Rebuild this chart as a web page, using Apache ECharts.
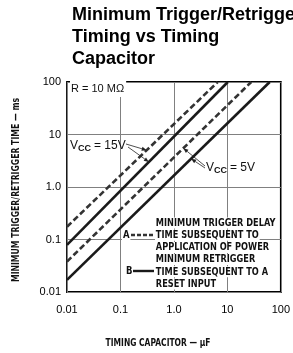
<!DOCTYPE html>
<html>
<head>
<meta charset="utf-8">
<script src="https://cdn.jsdelivr.net/npm/echarts@6/dist/echarts.min.js"></script>
<style>
  html, body { margin: 0; padding: 0; background: #fff; }
  #chart { width: 293px; height: 353px; }
</style>
</head>
<body>
<div id="chart"></div>
<script>
// tick labels
const xTickLabels = ['0.01', '0.1', '1.0', '10', '100'];
const yTickLabels = ['0.01', '0.1', '1.0', '10', '100'];

// line end points: capacitance (uF) -> time (ms)
const capTrig15 = [0.01, 6.6];
const timeTrig15 = [0.175, 100];
const capRetrig15 = [0.01, 10.2];
const timeRetrig15 = [0.079, 100];
const capTrig5 = [0.01, 28];
const timeTrig5 = [0.038, 100];
const capRetrig5 = [0.01, 62];
const timeRetrig5 = [0.017, 100];

const narrow = '"DejaVu Sans Condensed", sans-serif';
const arial = '"Liberation Sans", Arial, sans-serif';

function zip(xs, ys) {
  return xs.map((x, i) => [x, ys[i]]);
}

// point on a straight log-log line at capacitance c (for arrow tips)
function onLine(xs, ys, c) {
  const t = (Math.log10(c) - Math.log10(xs[0])) / (Math.log10(xs[1]) - Math.log10(xs[0]));
  const ly = Math.log10(ys[0]) + t * (Math.log10(ys[1]) - Math.log10(ys[0]));
  return [c, Math.pow(10, ly)];
}

function tickLabel(list) {
  return function (v) {
    return list[Math.round(Math.log10(v)) + 2];
  };
}

let myChart = echarts.init(document.getElementById('chart'));

function lineSeries(name, xs, ys, dashed) {
  return {
    name: name,
    type: 'line',
    data: zip(xs, ys),
    symbol: 'none',
    clip: true,
    lineStyle: {
      color: dashed ? '#333' : '#1a1a1a',
      width: 2.6,
      type: dashed ? [6, 3] : 'solid',
    },
  };
}

let option = {
  animation: false,
  grid: {
    left: 67,
    top: 82,
    width: 214,
    height: 210,
    show: true,
    borderColor: '#000',
    borderWidth: 1.8,
  },
  xAxis: {
    type: 'log',
    logBase: 10,
    min: 0.01,
    max: 100,
    axisLine: { show: false },
    axisTick: { show: false },
    splitLine: { show: true, lineStyle: { color: '#808080', width: 1 } },
    axisLabel: {
      formatter: tickLabel(xTickLabels),
      color: '#000',
      fontSize: 11,
      fontFamily: arial,
      margin: 12,
    },
  },
  yAxis: {
    type: 'log',
    logBase: 10,
    min: 0.01,
    max: 100,
    axisLine: { show: false },
    axisTick: { show: false },
    splitLine: { show: true, lineStyle: { color: '#808080', width: 1 } },
    axisLabel: {
      formatter: tickLabel(yTickLabels),
      color: '#000',
      fontSize: 11,
      fontFamily: arial,
      margin: 6,
    },
  },
  series: [
    lineSeries('A 15V', capTrig15, timeTrig15, true),
    lineSeries('B 15V', capRetrig15, timeRetrig15, false),
    lineSeries('A 5V', capTrig5, timeTrig5, true),
    lineSeries('B 5V', capRetrig5, timeRetrig5, false),
  ],
};
myChart.setOption(option);

// annotations
function px(p) {
  return myChart.convertToPixel({ gridIndex: 0 }, p);
}

function arrow(from, to) {
  const dx = to[0] - from[0], dy = to[1] - from[1];
  const len = Math.sqrt(dx * dx + dy * dy);
  const ux = dx / len, uy = dy / len;
  const hl = 5, hw = 2;
  const bx = to[0] - ux * hl, by = to[1] - uy * hl;
  return [
    {
      type: 'line',
      shape: { x1: from[0], y1: from[1], x2: bx, y2: by },
      style: { stroke: '#222', lineWidth: 0.8 },
      z: 20,
    },
    {
      type: 'polygon',
      shape: { points: [to, [bx - uy * hw, by + ux * hw], [bx + uy * hw, by - ux * hw]] },
      style: { fill: '#222' },
      z: 20,
    },
  ];
}

function whiteText(x, y, text, font, sx) {
  return {
    type: 'text',
    x: x,
    y: y,
    scaleX: sx || 1,
    z: 15,
    style: Object.assign({
      text: text,
      fill: '#111',
      backgroundColor: '#fff',
      verticalAlign: 'middle',
      align: 'left',
    }, font),
  };
}

const legendFont = { fontSize: 10.5, fontWeight: 'bold', fontFamily: narrow };
const legendLines = [
  'MINIMUM TRIGGER DELAY',
  'TIME SUBSEQUENT TO',
  'APPLICATION OF POWER',
  'MINIMUM RETRIGGER',
  'TIME SUBSEQUENT TO A',
  'RESET INPUT',
];

let graphics = [];

graphics.push({
  type: 'text',
  x: 72,
  y: 4,
  style: {
    text: 'Minimum Trigger/Retrigger\nTiming vs Timing\nCapacitor',
    fill: '#000',
    fontSize: 18,
    fontWeight: 'bold',
    fontFamily: arial,
    lineHeight: 22,
  },
});

// y axis title
graphics.push({
  type: 'text',
  x: 16,
  y: 190,
  rotation: Math.PI / 2,
  scaleX: 0.86,
  style: {
    text: 'MINIMUM TRIGGER/RETRIGGER TIME — ms',
    fill: '#111',
    fontSize: 10,
    fontWeight: 'bold',
    fontFamily: narrow,
    align: 'center',
    verticalAlign: 'middle',
  },
});

// x axis title
graphics.push({
  type: 'text',
  x: 158,
  y: 343,
  scaleX: 0.8,
  style: {
    text: 'TIMING CAPACITOR — μF',
    fill: '#111',
    fontSize: 10.5,
    fontWeight: 'bold',
    fontFamily: narrow,
    align: 'center',
    verticalAlign: 'middle',
  },
});

graphics.push(whiteText(70, 89, 'R = 10 MΩ', { fontSize: 11, fontFamily: arial, padding: [2, 2, 3, 1] }));

legendLines.forEach((t, i) => {
  graphics.push(whiteText(155, 223 + i * 12.2, t, Object.assign({ padding: [0, 1] }, legendFont), 0.87));
});

graphics.push(whiteText(122, 235, 'A', Object.assign({ padding: [0, 1] }, legendFont), 0.9));
graphics.push(whiteText(125, 271, 'B', Object.assign({ padding: [0, 1] }, legendFont), 0.9));
graphics.push({
  type: 'line',
  shape: { x1: 131, y1: 235, x2: 154, y2: 235 },
  style: { stroke: '#333', lineWidth: 2.4, lineDash: [4, 2] },
  z: 16,
});
graphics.push({
  type: 'line',
  shape: { x1: 133, y1: 271, x2: 154, y2: 271 },
  style: { stroke: '#1a1a1a', lineWidth: 2.4 },
  z: 16,
});

// Vcc labels
function vccLabel(x, y, volts) {
  return [
    { type: 'text', x: x, y: y, z: 15, style: { text: 'V', fontSize: 12, fontFamily: arial, fill: '#111', verticalAlign: 'middle' } },
    { type: 'text', x: x + 8, y: y + 3, z: 15, style: { text: 'CC', fontSize: 9, fontWeight: 'bold', fontFamily: arial, fill: '#111', verticalAlign: 'middle' } },
    { type: 'text', x: x + 24, y: y, z: 15, style: { text: '= ' + volts, fontSize: 12, fontFamily: arial, fill: '#111', verticalAlign: 'middle' } },
  ];
}

graphics = graphics.concat(vccLabel(70, 146, '15V'));
graphics = graphics.concat(arrow([126, 144], px(onLine(capTrig15, timeTrig15, 0.31))));
graphics = graphics.concat(arrow([128, 147], px(onLine(capRetrig15, timeRetrig15, 0.34))));

graphics = graphics.concat(vccLabel(206, 168, '5V'));
graphics = graphics.concat(arrow([205, 166], px(onLine(capTrig5, timeTrig5, 1.5))));
graphics = graphics.concat(arrow([205, 168], px(onLine(capRetrig5, timeRetrig5, 2.1))));

myChart.setOption({ graphic: graphics });

window.addEventListener('resize', function () {
  myChart.resize();
});
</script>
</body>
</html>
